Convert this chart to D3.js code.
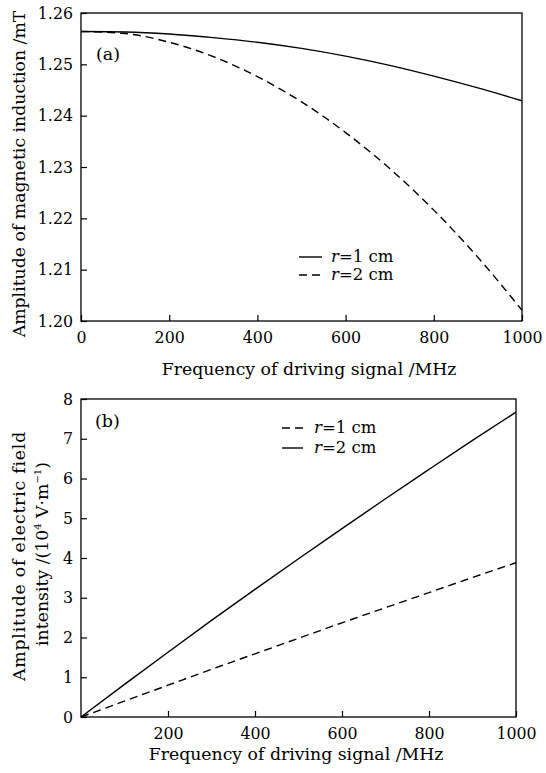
<!DOCTYPE html>
<html><head><meta charset="utf-8">
<script src="https://cdn.jsdelivr.net/npm/d3@7"></script>
<style>
body{margin:0;background:#fff;}
text{font-family:"DejaVu Serif",serif;fill:#000;}
</style></head>
<body><svg id="c" width="546" height="773"></svg>
<script>
// ---- data ----
const freqA = [0,100,200,300,400,500,600,700,800,900,1000];
const magR1 = [1.2564,1.2563,1.2559,1.2552,1.2543,1.2531,1.2516,1.2498,1.2477,1.2454,1.2429];
const magR2 = [1.2564,1.2560,1.2543,1.2515,1.2476,1.2427,1.2367,1.2297,1.2216,1.2124,1.2021];
const freqB = [0,100,200,300,400,500,600,700,800,900,1000];
const elecR1 = [0,0.40,0.80,1.20,1.59,1.98,2.37,2.75,3.13,3.51,3.88];
const elecR2 = [0,0.82,1.63,2.43,3.21,3.98,4.74,5.49,6.23,6.96,7.67];
const ticksAX = [0,200,400,600,800,1000];
const ticksAY = [1.20,1.21,1.22,1.23,1.24,1.25,1.26];
const ticksBX = [200,400,600,800,1000];
const ticksBY = [0,1,2,3,4,5,6,7,8];

const svg = d3.select("#c");
const FS = 15.8;   // tick labels
const TS = 17.3;   // axis titles

function panel(o){
  const x = d3.scaleLinear().domain(o.xd).range([o.l,o.r]);
  const y = d3.scaleLinear().domain(o.yd).range([o.b,o.t]);
  const g = svg.append("g");
  const ax = g.append("g").attr("transform",`translate(0,${o.b})`)
    .call(d3.axisBottom(x).tickValues(o.xt).tickSize(-6).tickPadding(11).tickFormat(d3.format("d")));
  const ay = g.append("g").attr("transform",`translate(${o.l},0)`)
    .call(d3.axisLeft(y).tickValues(o.yt).tickSize(-6).tickPadding(8).tickFormat(d3.format(o.yf)));
  [ax,ay].forEach(a=>{
    a.select(".domain").remove();
    a.selectAll("line").attr("stroke","#000").attr("stroke-width",1.2);
    a.selectAll("text").style("font-family","DejaVu Serif").style("font-size",FS+"px").attr("fill","#000");
  });
  g.append("rect").attr("x",o.l).attr("y",o.t).attr("width",o.r-o.l).attr("height",o.b-o.t)
    .attr("fill","none").attr("stroke","#000").attr("stroke-width",1.3);
  o.series.forEach(s=>{
    const line = d3.line().curve(d3.curveMonotoneX).x((d,i)=>x(o.xs[i])).y(d=>y(d));
    g.append("path").datum(s.v).attr("d",line).attr("fill","none").attr("stroke","#000")
      .attr("stroke-width",1.4).attr("stroke-dasharray",s.dash?"8,5":null);
  });
  o.series.forEach((s,i)=>{
    const ly = o.leg.y + i*o.leg.dy;
    g.append("line").attr("x1",o.leg.x).attr("x2",o.leg.x+o.leg.w).attr("y1",ly).attr("y2",ly)
      .attr("stroke","#000").attr("stroke-width",1.4).attr("stroke-dasharray",s.dash?"8,5":null);
    const t = g.append("text").attr("x",o.leg.tx).attr("y",ly+5).style("font-size","16.5px");
    t.append("tspan").attr("font-style","italic").text("r");
    t.append("tspan").text(s.name.slice(1));
  });
  g.append("text").attr("x",o.pl[0]).attr("y",o.pl[1]).style("font-size","17.5px").text(o.plt);
  g.append("text").attr("x",o.xtX).attr("y",o.xtY).attr("text-anchor","middle")
    .style("font-size",TS+"px").text("Frequency of driving signal /MHz");
  return {x,y,g};
}

const A = panel({l:81,r:522,t:13,b:321,xd:[0,1000],yd:[1.20,1.26],xt:ticksAX,yt:ticksAY,yf:".2f",
  xs:freqA,
  series:[{name:"r=1 cm",v:magR1,dash:false},{name:"r=2 cm",v:magR2,dash:true}],
  leg:{x:299,w:23,tx:331,y:257,dy:18},pl:[96,60],plt:"(a)",xtY:375,xtX:309});
A.g.append("text").attr("transform","translate(25,174) rotate(-90)").attr("text-anchor","middle")
  .style("font-size",TS+"px").text("Amplitude of magnetic induction /mT");

const B = panel({l:81,r:516,t:399,b:717,xd:[0,1000],yd:[0,8],xt:ticksBX,yt:ticksBY,yf:"d",
  xs:freqB,
  series:[{name:"r=1 cm",v:elecR1,dash:true},{name:"r=2 cm",v:elecR2,dash:false}],
  leg:{x:282,w:21,tx:314,y:428,dy:20},pl:[95,427],plt:"(b)",xtY:760,xtX:296});
B.g.append("text").attr("transform","translate(25,556) rotate(-90)").attr("text-anchor","middle")
  .style("font-size",TS+"px").style("letter-spacing","0.8px").text("Amplitude of electric field");
const t2 = B.g.append("text").attr("transform","translate(48,554) rotate(-90)").attr("text-anchor","middle")
  .style("font-size",TS+"px");
t2.append("tspan").text("intensity /(10");
t2.append("tspan").attr("dy",-7).style("font-size","10px").text("4");
t2.append("tspan").attr("dy",7).text(" V\u00B7m");
t2.append("tspan").attr("dy",-7).style("font-size","10px").text("\u22121");
t2.append("tspan").attr("dy",7).text(")");
</script></body></html>
